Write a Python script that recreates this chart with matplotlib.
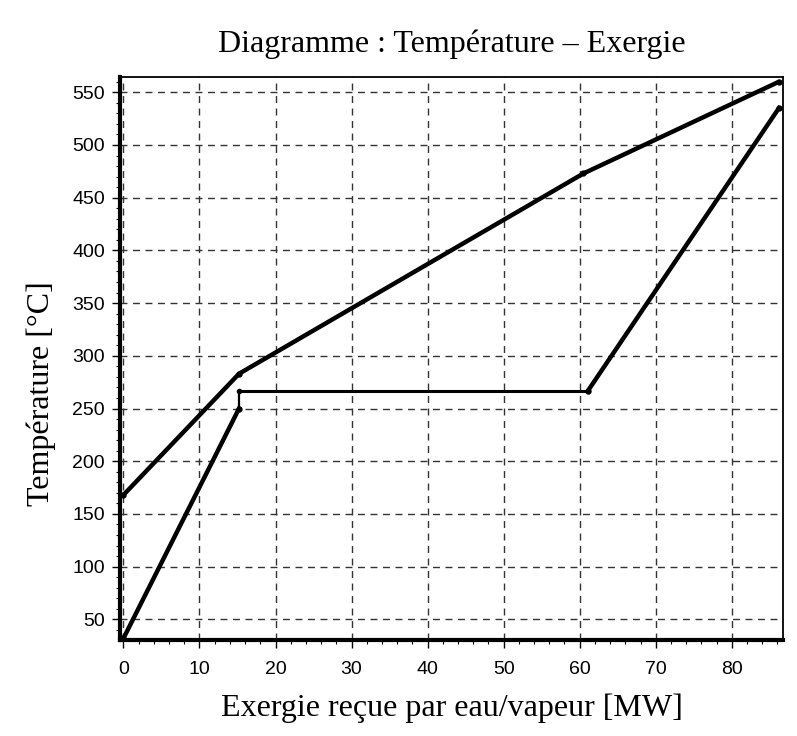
import numpy as np
import matplotlib.pyplot as plt
from matplotlib.ticker import MultipleLocator

# gas side (hot curve)
gas_x = [0.0, 15.2, 60.5, 86.2]
gas_t = [168, 283, 473, 560]

# water / steam side (cold curve)
water_x = [0.0, 15.2, 15.2, 61.1, 86.2]
water_t = [32, 250, 267, 267, 535]

fig = plt.figure(figsize=(7.97, 7.36), dpi=100)
ax = fig.add_axes([0.1506, 0.1304, 0.8324, 0.7654])

ax.plot(gas_x, gas_t, color='black', lw=3.2, marker='o', ms=3.5, solid_capstyle='round')
ax.plot(water_x[:2], water_t[:2], color='black', lw=3.2, marker='o', ms=3.5)
ax.plot(water_x[1:3], water_t[1:3], color='black', lw=1.6)
ax.plot(water_x[2:4], water_t[2:4], color='black', lw=2.2, marker='o', ms=3)
ax.plot(water_x[3:], water_t[3:], color='black', lw=3.2, marker='o', ms=3.5)

ax.set_xlim(-0.45, 86.8)
ax.set_ylim(30.4, 564.8)
ax.xaxis.set_major_locator(MultipleLocator(10))
ax.xaxis.set_minor_locator(MultipleLocator(2))
ax.yaxis.set_major_locator(MultipleLocator(50))
ax.yaxis.set_minor_locator(MultipleLocator(10))
ax.set_yticks(np.arange(50, 551, 50))

ax.grid(True, which='major', color='#333333', linestyle=(0, (5, 4)), lw=1.0)
ax.tick_params(which='major', length=6, width=1, labelsize=14, direction='out')
ax.tick_params(axis='x', which='major', pad=9)
ax.tick_params(axis='y', which='major', pad=5)
ax.tick_params(which='minor', length=3, width=0.8, direction='out')
for lab in ax.get_xticklabels() + ax.get_yticklabels():
    lab.set_fontfamily('Liberation Sans')

ax.spines['left'].set_linewidth(3)
ax.spines['bottom'].set_linewidth(3)
ax.spines['top'].set_linewidth(1.3)
ax.spines['right'].set_linewidth(1.3)

ax.set_title('Diagramme : Température – Exergie', fontfamily='Liberation Serif',
             fontsize=23, pad=18)
ax.set_xlabel('Exergie reçue par eau/vapeur [MW]', fontfamily='Liberation Serif',
              fontsize=23, labelpad=11)
ax.set_ylabel('Température [°C]', fontfamily='Liberation Serif', fontsize=23)
ax.yaxis.set_label_coords(-0.097, 0.438)

fig.savefig('out.png', dpi=100)
